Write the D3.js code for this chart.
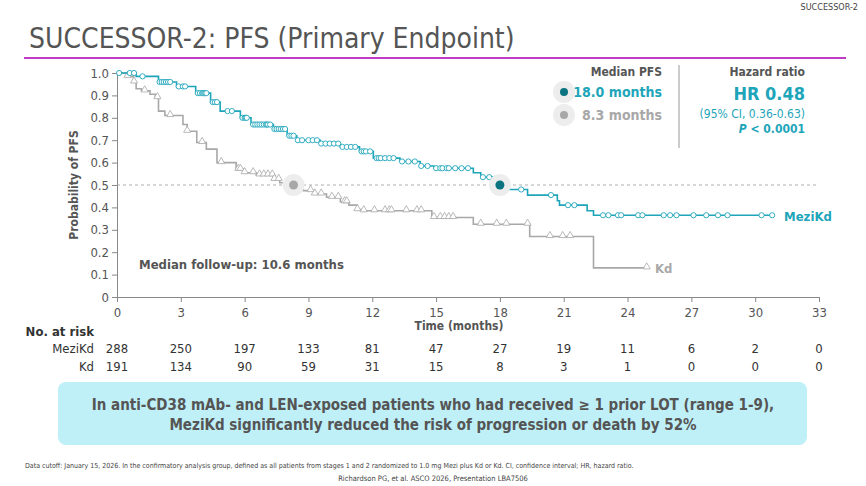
<!DOCTYPE html>
<html><head><meta charset="utf-8">
<script src="https://cdn.jsdelivr.net/npm/d3@7"></script>
<style>
body{margin:0;background:#fff;}
text{font-family:"DejaVu Sans Condensed","DejaVu Sans",sans-serif;}
</style></head>
<body><svg id="c" width="866" height="486"></svg>
<script>
// step points [time, survival]
let meziSteps = [[0,1],[0.9,0.985],[1.95,0.96],[2.8,0.94],[3.7,0.91],[4.4,0.87],[4.85,0.83],[5.8,0.80],[6.3,0.77],[7.35,0.75],[8.0,0.72],[8.45,0.70],[9.55,0.685],[10.5,0.67],[11.4,0.65],[12.05,0.62],[13.3,0.605],[14.25,0.585],[14.9,0.575],[16.75,0.555],[17.1,0.535],[17.85,0.51],[18.4,0.48],[19.3,0.455],[20.7,0.43],[20.8,0.41],[22.1,0.385],[22.4,0.365]];
let meziEnd = 30.8;
let meziCensor = [0.1,0.6,0.8,1.2,2.0,2.1,2.2,2.3,2.4,2.5,2.9,3.1,3.2,3.8,3.9,4.0,4.05,4.1,4.15,4.2,4.5,4.6,4.7,5.2,5.4,5.9,6.0,6.05,6.1,6.4,6.5,6.6,6.7,6.8,6.9,7.0,7.05,7.1,7.2,7.4,7.5,7.6,7.7,7.8,7.9,8.1,8.2,8.3,8.5,8.7,9.0,9.2,9.4,9.6,9.8,10.0,10.2,10.4,10.6,10.8,11.0,11.2,11.5,11.6,11.7,11.9,12.2,12.3,12.4,12.6,12.8,13.0,13.4,13.7,14.0,14.3,14.6,15.0,15.2,15.3,15.5,15.6,15.9,16.2,16.5,17.2,17.5,19.0,20.4,21.2,21.5,22.85,23.1,23.55,23.7,24.5,24.7,25.7,26.0,26.3,27.1,27.7,28.25,28.7,30.3,30.8];
let kdSteps = [[0,1],[0.45,0.985],[0.77,0.96],[0.9,0.93],[1.15,0.92],[1.55,0.905],[1.8,0.89],[1.95,0.83],[2.25,0.81],[3.1,0.77],[3.3,0.74],[3.75,0.69],[4.2,0.66],[4.7,0.60],[5.6,0.57],[5.95,0.555],[6.55,0.545],[7.35,0.525],[7.65,0.51],[8.2,0.49],[8.75,0.475],[9.25,0.46],[9.85,0.445],[10.5,0.425],[10.9,0.41],[11.3,0.39],[11.6,0.385],[14.8,0.355],[16.75,0.325],[19.4,0.27],[22.4,0.13]];
let kdEnd = 24.9;
let kdCensor = [0.5,0.8,1.3,1.9,2.5,3.3,4.0,4.9,5.7,5.8,6.0,6.4,6.7,6.9,7.1,7.3,7.4,7.6,8.0,8.6,9.1,9.3,9.6,10.1,10.4,10.7,10.8,11.3,11.6,12.1,12.6,12.8,12.9,13.6,14.1,14.3,14.9,15.2,15.4,15.6,15.8,17.1,17.85,18.3,19.3,20.35,20.95,21.3,24.9];
let xTicks = [0,3,6,9,12,15,18,21,24,27,30,33];
let yTicks = [0,0.1,0.2,0.3,0.4,0.5,0.6,0.7,0.8,0.9,1.0];
let riskMezi = [288,250,197,133,81,47,27,19,11,6,2,0];
let riskKd = [191,134,90,59,31,15,8,3,1,0,0,0];
let medians = [{name:"MeziKd", t:18.0, label:"18.0 months"},{name:"Kd", t:8.3, label:"8.3 months"}];

let teal = "#1ea5ba", dark = "#0b7480", gray = "#a8a8a8", txt = "#555";
let svg = d3.select("#c");
let x = d3.scaleLinear().domain([0,33]).range([117,819]);
let y = d3.scaleLinear().domain([0,1]).range([297,73]);

// header
svg.append("text").attr("x",858).attr("y",10).attr("text-anchor","end").attr("font-size",9).attr("fill","#444").text("SUCCESSOR-2");
svg.append("text").attr("x",29).attr("y",48).attr("font-size",28).attr("fill",txt).text("SUCCESSOR-2: PFS (Primary Endpoint)");
svg.append("line").attr("x1",24).attr("x2",846).attr("y1",58).attr("y2",58).attr("stroke","#c23bc4").attr("stroke-width",2);

// axes
svg.append("g").attr("transform","translate(0,297)")
    .call(d3.axisBottom(x).tickValues(xTicks).tickSize(5).tickSizeOuter(0))
    .call(g => { g.select(".domain").attr("stroke","#888"); g.selectAll("line").attr("stroke","#888");
        g.selectAll("text").attr("font-size",13).attr("fill",txt).attr("dy","0.9em"); });
svg.append("g").attr("transform","translate(117,0)")
    .call(d3.axisLeft(y).tickValues(yTicks).tickFormat(d => d === 0 ? "0" : d3.format(".1f")(d)).tickSize(5).tickSizeOuter(0))
    .call(g => { g.select(".domain").attr("stroke","#888"); g.selectAll("line").attr("stroke","#888");
        g.selectAll("text").attr("font-size",13).attr("fill",txt); });
svg.append("text").attr("transform","translate(78,185) rotate(-90)").attr("text-anchor","middle")
    .attr("font-size",12).attr("font-weight","bold").attr("fill",txt).text("Probability of PFS");
svg.append("text").attr("x",459).attr("y",330).attr("text-anchor","middle").attr("font-size",12)
    .attr("font-weight","bold").attr("fill",txt).text("Time (months)");

svg.append("line").attr("x1",x(0)).attr("x2",x(33)).attr("y1",y(0.5)).attr("y2",y(0.5))
    .attr("stroke","#999").attr("stroke-dasharray","3 3").attr("stroke-width",0.8);

function survAt(steps, t) {
    let s = 1;
    steps.forEach(p => { if (p[0] <= t) s = p[1]; });
    return s;
}
function drawCurve(steps, end, censor, color, marker) {
    let pts = steps.concat([[end, steps[steps.length-1][1]]]);
    let line = d3.line().x(d => x(d[0])).y(d => y(d[1])).curve(d3.curveStepAfter);
    svg.append("path").attr("d",line(pts)).attr("fill","none").attr("stroke",color).attr("stroke-width",1.6);
    censor.forEach(t => {
        let cx = x(t), cy = y(survAt(steps, t));
        if (marker === "circle") {
            svg.append("circle").attr("cx",cx).attr("cy",cy).attr("r",2.6)
                .attr("fill","#fff").attr("stroke",color).attr("stroke-width",0.9);
        } else {
            svg.append("path").attr("d", d3.symbol(d3.symbolTriangle, 22)())
                .attr("transform","translate(" + cx + "," + (cy - 1) + ")")
                .attr("fill","#fff").attr("stroke",color).attr("stroke-width",0.8);
        }
    });
}
drawCurve(kdSteps, kdEnd, kdCensor, gray, "tri");
drawCurve(meziSteps, meziEnd, meziCensor, teal, "circle");

// median markers
[[medians[1], gray],[medians[0], dark]].forEach(m => {
    svg.append("circle").attr("cx",x(m[0].t)).attr("cy",y(0.5)).attr("r",11).attr("fill","#ededed");
    svg.append("circle").attr("cx",x(m[0].t)).attr("cy",y(0.5)).attr("r",4.5).attr("fill",m[1]);
});

// curve labels
svg.append("text").attr("x",784).attr("y",221).attr("font-size",13).attr("font-weight","bold").attr("fill",teal).text("MeziKd");
svg.append("text").attr("x",655).attr("y",273).attr("font-size",13).attr("font-weight","bold").attr("fill",gray).text("Kd");
svg.append("text").attr("x",139).attr("y",269).attr("font-size",13).attr("font-weight","bold").attr("fill",txt).text("Median follow-up: 10.6 months");

// legend
svg.append("text").attr("x",662).attr("y",76).attr("text-anchor","end").attr("font-size",12).attr("font-weight","bold").attr("fill",txt).text("Median PFS");
[[medians[0], dark, teal, 92],[medians[1], gray, gray, 115]].forEach(m => {
    svg.append("circle").attr("cx",564).attr("cy",m[3]).attr("r",11).attr("fill","#ededed");
    svg.append("circle").attr("cx",564).attr("cy",m[3]).attr("r",4).attr("fill",m[1]);
    svg.append("text").attr("x",662).attr("y",m[3] + 5).attr("text-anchor","end").attr("font-size",14)
        .attr("font-weight","bold").attr("fill",m[2]).text(m[0].label);
});
svg.append("line").attr("x1",679).attr("x2",679).attr("y1",65).attr("y2",148).attr("stroke","#999");
svg.append("text").attr("x",805).attr("y",76).attr("text-anchor","end").attr("font-size",12).attr("font-weight","bold").attr("fill",txt).text("Hazard ratio");
svg.append("text").attr("x",805).attr("y",100).attr("text-anchor","end").attr("font-size",18).attr("font-weight","bold").attr("fill",teal).text("HR 0.48");
svg.append("text").attr("x",805).attr("y",118).attr("text-anchor","end").attr("font-size",12).attr("fill",teal).text("(95% CI, 0.36-0.63)");
let pt = svg.append("text").attr("x",805).attr("y",133).attr("text-anchor","end").attr("font-size",12).attr("font-weight","bold").attr("fill",teal);
pt.append("tspan").attr("font-style","italic").text("P");
pt.append("tspan").text(" < 0.0001");

// risk table
svg.append("text").attr("x",94).attr("y",336).attr("text-anchor","end").attr("font-size",13).attr("font-weight","bold").attr("fill","#333").text("No. at risk");
[["MeziKd", riskMezi, 353],["Kd", riskKd, 371]].forEach(r => {
    svg.append("text").attr("x",94).attr("y",r[2]).attr("text-anchor","end").attr("font-size",13).attr("fill","#333").text(r[0]);
    svg.selectAll(null).data(r[1]).enter().append("text")
        .attr("x",(d,i) => x(xTicks[i])).attr("y",r[2]).attr("text-anchor","middle")
        .attr("font-size",13).attr("fill","#333").text(d => d);
});

// callout box
svg.append("rect").attr("x",58).attr("y",382).attr("width",749).attr("height",63).attr("rx",8).attr("fill","#bff0f8");
svg.append("text").attr("x",433).attr("y",410).attr("text-anchor","middle").attr("font-size",15).attr("font-weight","bold").attr("fill",txt)
    .text("In anti-CD38 mAb- and LEN-exposed patients who had received \u2265 1 prior LOT (range 1-9),");
svg.append("text").attr("x",433).attr("y",430).attr("text-anchor","middle").attr("font-size",15).attr("font-weight","bold").attr("fill",txt)
    .text("MeziKd significantly reduced the risk of progression or death by 52%");

// footnotes
svg.append("text").attr("x",25).attr("y",468).attr("font-size",7).attr("fill","#444")
    .text("Data cutoff: January 15, 2026. In the confirmatory analysis group, defined as all patients from stages 1 and 2 randomized to 1.0 mg Mezi plus Kd or Kd. CI, confidence interval; HR, hazard ratio.");
svg.append("text").attr("x",433).attr("y",481).attr("text-anchor","middle").attr("font-size",7.5).attr("fill","#444")
    .text("Richardson PG, et al. ASCO 2026, Presentation LBA7506");
</script></body></html>
